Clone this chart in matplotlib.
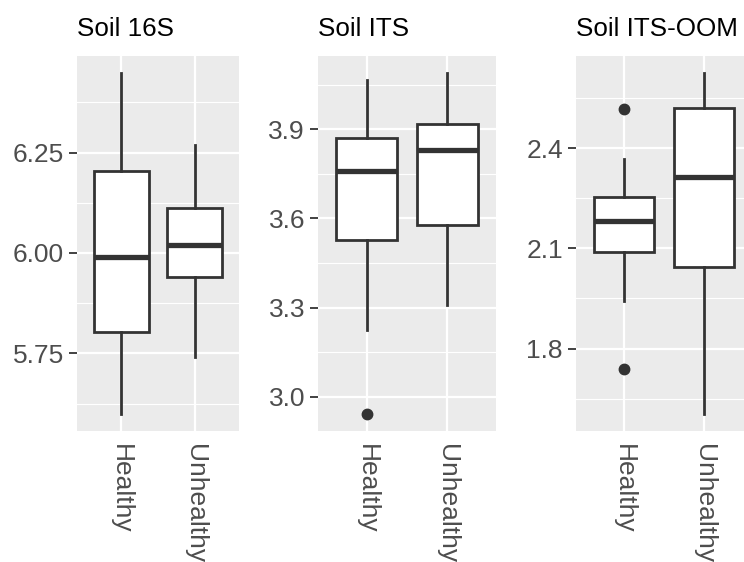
import matplotlib
matplotlib.use("Agg")
import matplotlib.pyplot as plt

plt.rcParams['font.family'] = ['Liberation Sans', 'DejaVu Sans']

groups = ["Healthy", "Unhealthy"]

# per panel: whislo, q1, median, q3, whishi, outliers (Healthy, Unhealthy)
titles = ["Soil 16S", "Soil ITS", "Soil ITS-OOM"]

s16_whislo = [5.599, 5.742]
s16_q1 = [5.804, 5.941]
s16_med = [5.990, 6.020]
s16_q3 = [6.205, 6.112]
s16_whishi = [6.449, 6.269]
s16_out = [[], []]

its_whislo = [3.225, 3.309]
its_q1 = [3.527, 3.578]
its_med = [3.758, 3.831]
its_q3 = [3.869, 3.918]
its_whishi = [4.065, 4.090]
its_out = [[2.942], []]

oom_whislo = [1.942, 1.604]
oom_q1 = [2.090, 2.043]
oom_med = [2.181, 2.315]
oom_q3 = [2.254, 2.521]
oom_whishi = [2.367, 2.626]
oom_out = [[1.739, 2.517], []]

major_ticks = [[5.75, 6.00, 6.25], [3.0, 3.3, 3.6, 3.9], [1.8, 2.1, 2.4]]
tick_fmt = ["{:.2f}", "{:.1f}", "{:.1f}"]
minor_ticks = [[5.625, 5.875, 6.125, 6.375],
               [3.15, 3.45, 3.75, 4.05],
               [1.65, 1.95, 2.25, 2.55]]

panels = [
    (s16_whislo, s16_q1, s16_med, s16_q3, s16_whishi, s16_out),
    (its_whislo, its_q1, its_med, its_q3, its_whishi, its_out),
    (oom_whislo, oom_q1, oom_med, oom_q3, oom_whishi, oom_out),
]

W, H = 744, 562
fig = plt.figure(figsize=(W / 100, H / 100), dpi=100)

# axes boxes in pixels: left, right
px = [(77, 239), (318.3, 495.7), (576, 752)]
top_px, bot_px = 55.7, 431

dark = "#333333"
for i, (lo, q1, med, q3, hi, out) in enumerate(panels):
    l, r = px[i]
    ax = fig.add_axes([l / W, (H - bot_px) / H, (r - l) / W, (bot_px - top_px) / H])
    ax.set_facecolor("#EBEBEB")
    for sp in ax.spines.values():
        sp.set_visible(False)

    stats = []
    for j in range(2):
        stats.append(dict(whislo=lo[j], q1=q1[j], med=med[j], q3=q3[j],
                          whishi=hi[j], fliers=out[j]))
    ax.bxp(stats, positions=[1, 2], widths=0.75, patch_artist=True,
           showcaps=False,
           boxprops=dict(facecolor="white", edgecolor=dark, linewidth=2.0),
           whiskerprops=dict(color=dark, linewidth=2.0),
           medianprops=dict(color=dark, linewidth=3.8, solid_capstyle="butt"),
           flierprops=dict(marker="o", markerfacecolor=dark,
                           markeredgecolor=dark, markersize=7.5),
           zorder=3)

    vals = lo + hi + [v for o in out for v in o]
    vmin, vmax = min(vals), max(vals)
    pad = (vmax - vmin) * 0.05
    ax.set_ylim(vmin - pad, vmax + pad)
    ax.set_xlim(0.4, 2.6)

    ax.set_yticks(major_ticks[i])
    ax.set_yticklabels([tick_fmt[i].format(v) for v in major_ticks[i]])
    ax.set_yticks(minor_ticks[i], minor=True)
    ax.set_xticks([1, 2])
    ax.set_xticklabels(groups, rotation=270, va="top", ha="center")

    ax.grid(which="major", color="white", linewidth=1.6, zorder=0)
    ax.grid(which="minor", axis="y", color="white", linewidth=0.8, zorder=0)
    ax.set_axisbelow(True)

    ax.tick_params(axis="y", which="major", length=5.5, width=1.3, color=dark,
                   labelsize=19, labelcolor="#4D4D4D", pad=4)
    ax.tick_params(axis="y", which="minor", length=0)
    ax.tick_params(axis="x", length=0, labelsize=19, labelcolor="#4D4D4D", pad=9)

    ax.set_title(titles[i], loc="left", fontsize=18.7, color="black", pad=14)

fig.savefig("out.png", dpi=100)
